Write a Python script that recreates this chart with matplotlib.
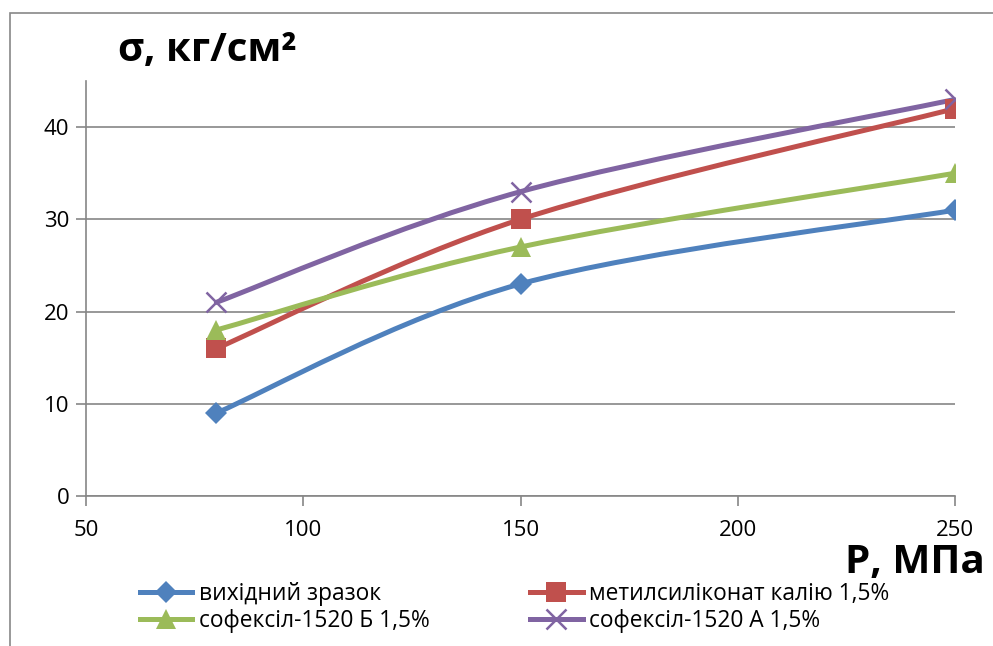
import matplotlib.pyplot as plt
import numpy as np
from matplotlib.path import Path
from matplotlib.patches import PathPatch, Rectangle
from matplotlib.lines import Line2D

plt.rcParams['font.family'] = ['Open Sans', 'DejaVu Sans']

pressure = [80, 150, 250]
base = [9, 23, 31]
methyl = [16, 30, 42]
sofexil_b = [18, 27, 35]
sofexil_a = [21, 33, 43]

names = ['вихідний зразок', 'метилсиліконат калію 1,5%',
         'софексіл-1520 Б 1,5%', 'софексіл-1520 А 1,5%']
colors = ['#4F81BD', '#C0504D', '#9BBB59', '#8064A2']
markers = ['D', 's', '^', 'x']
msizes = [11, 14, 15, 14]
LW = 3.6


def smooth_path(xs, ys):
    # bezier segments in the style of spreadsheet "smoothed line"
    pts = np.column_stack([xs, ys]).astype(float)
    ext = np.vstack([pts[0], pts, pts[-1]])
    verts = [pts[0]]
    codes = [Path.MOVETO]
    for i in range(len(pts) - 1):
        p0, p1, p2, p3 = ext[i], ext[i + 1], ext[i + 2], ext[i + 3]
        verts += [p1 + (p2 - p0) / 6, p2 - (p3 - p1) / 6, p2]
        codes += [Path.CURVE4] * 3
    return Path(verts, codes)


fig = plt.figure(figsize=(9.93, 6.46), dpi=100)
ax = fig.add_axes([86 / 993, 1 - 496 / 646, (955 - 86) / 993, (496 - 81) / 646])

series = [base, methyl, sofexil_b, sofexil_a]
for ys, c, m, ms in zip(series, colors, markers, msizes):
    ax.add_patch(PathPatch(smooth_path(pressure, ys), fill=False,
                           edgecolor=c, lw=LW, zorder=3, capstyle='round'))
    ax.plot(pressure, ys, ls='none', marker=m, color=c, ms=ms,
            mew=1.8 if m == 'x' else 0, zorder=4)

ax.set_xlim(50, 250)
ax.set_ylim(0, 45)
ax.set_xticks([50, 100, 150, 200, 250])
ax.set_yticks([0, 10, 20, 30, 40])
ax.yaxis.grid(True, color='#868686', lw=1.2)
ax.set_axisbelow(True)
for s in ['top', 'right']:
    ax.spines[s].set_visible(False)
for s in ['left', 'bottom']:
    ax.spines[s].set_color('#868686')
    ax.spines[s].set_linewidth(1.2)
ax.tick_params(axis='both', color='#868686', length=7, width=1.2,
               labelsize=16, pad=5)
ax.tick_params(axis='x', pad=10)

fig.text(118 / 993, 1 - 50 / 646, 'σ, кг/см²', fontsize=29,
         fontweight='bold', va='center', ha='left')
fig.text(985 / 993, 1 - 562 / 646, 'Р, МПа', fontsize=29,
         fontweight='bold', va='center', ha='right')

handles = [Line2D([], [], color=c, lw=LW, marker=m, ms=ms,
                  mew=1.8 if m == 'x' else 0)
           for c, m, ms in zip(colors, markers, msizes)]
order = [0, 2, 1, 3]
fig.legend([handles[i] for i in order], [names[i] for i in order],
           ncol=2, loc='upper left', bbox_to_anchor=(140 / 993, 1 - 582 / 646),
           frameon=False, fontsize=16.4, handlelength=2.3, handletextpad=0.3,
           columnspacing=4.4, labelspacing=0.15, borderaxespad=0,
           borderpad=0)

fig.patches.append(Rectangle((10 / 993, -0.1), 1.2, 0.1 + 1 - 13 / 646,
                             transform=fig.transFigure, fill=False,
                             edgecolor='#888888', lw=1.2))

fig.savefig('out.png', dpi=100)
